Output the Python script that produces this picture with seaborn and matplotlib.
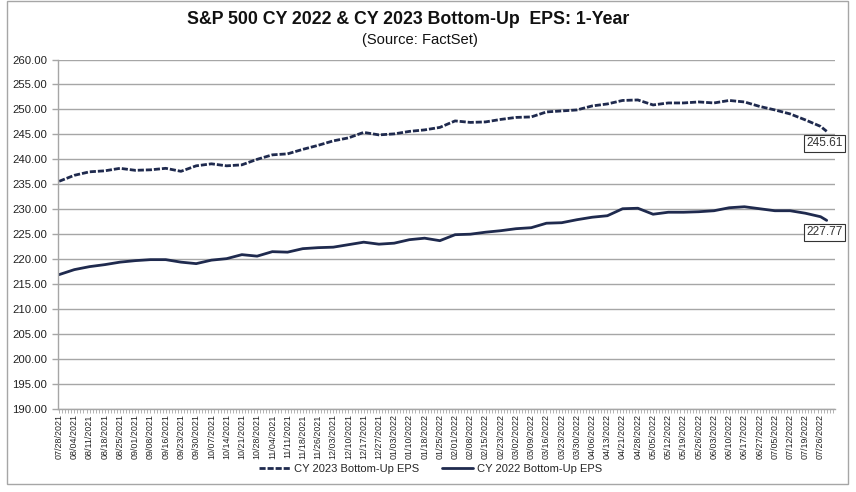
"""
S&P 500 CY 2022 & CY 2023 bottom-up EPS, one year of weekly readings.
"""

import matplotlib

matplotlib.use("Agg")

import matplotlib.pyplot as plt
import pandas as pd
import seaborn as sns
from matplotlib.patches import Rectangle
from matplotlib.ticker import FixedLocator, FormatStrFormatter, MultipleLocator

# ==========================================================
# Data
# ==========================================================

week_labels = [
    "07/28/2021", "08/04/2021", "08/11/2021", "08/18/2021", "08/25/2021",
    "09/01/2021", "09/08/2021", "09/16/2021", "09/23/2021", "09/30/2021",
    "10/07/2021", "10/14/2021", "10/21/2021", "10/28/2021", "11/04/2021",
    "11/11/2021", "11/18/2021", "11/26/2021", "12/03/2021", "12/10/2021",
    "12/17/2021", "12/27/2021", "01/03/2022", "01/10/2022", "01/18/2022",
    "01/25/2022", "02/01/2022", "02/08/2022", "02/15/2022", "02/23/2022",
    "03/02/2022", "03/09/2022", "03/16/2022", "03/23/2022", "03/30/2022",
    "04/06/2022", "04/13/2022", "04/21/2022", "04/28/2022", "05/05/2022",
    "05/12/2022", "05/19/2022", "05/26/2022", "06/03/2022", "06/10/2022",
    "06/17/2022", "06/27/2022", "07/05/2022", "07/12/2022", "07/19/2022",
    "07/26/2022",
]

# trading-day number of each reading (weekly, plus the last day shown)
trade_day = list(range(0, 251, 5)) + [252]

eps_2023 = [
    235.6, 236.8, 237.5, 237.7, 238.2, 237.8, 237.9, 238.2, 237.6, 238.7,
    239.1, 238.7, 238.9, 240.0, 240.9, 241.1, 242.0, 242.8, 243.7, 244.3,
    245.4, 244.9, 245.1, 245.6, 245.9, 246.4, 247.7, 247.4, 247.5, 248.0,
    248.4, 248.5, 249.5, 249.7, 249.9, 250.7, 251.1, 251.8, 251.9, 250.9,
    251.3, 251.3, 251.5, 251.3, 251.8, 251.5, 250.6, 249.9, 249.1, 247.9,
    246.6, 245.61,
]

eps_2022 = [
    216.9, 217.9, 218.5, 218.9, 219.4, 219.7, 219.9, 219.9, 219.4, 219.1,
    219.8, 220.1, 220.9, 220.6, 221.5, 221.4, 222.1, 222.3, 222.4, 222.9,
    223.4, 223.0, 223.2, 223.9, 224.2, 223.7, 224.9, 225.0, 225.4, 225.7,
    226.1, 226.3, 227.2, 227.3, 227.9, 228.4, 228.7, 230.1, 230.2, 229.0,
    229.4, 229.4, 229.5, 229.7, 230.3, 230.5, 230.1, 229.7, 229.7, 229.2,
    228.5, 227.77,
]

NAVY = "#1f2a4e"
GRID = "#a6a6a6"

# ==========================================================
# Plot Style
# ==========================================================

sns.set_theme(style="white")
plt.rcParams["font.family"] = ["Liberation Sans", "DejaVu Sans"]


def main() -> None:
    df = pd.DataFrame(
        {"day": trade_day, "CY 2023 Bottom-Up EPS": eps_2023,
         "CY 2022 Bottom-Up EPS": eps_2022}
    )

    fig = plt.figure(figsize=(8.56, 4.92), dpi=100)
    ax = fig.add_axes([0.068, 0.169, 0.907, 0.710])

    sns.lineplot(
        data=df, x="day", y="CY 2023 Bottom-Up EPS", ax=ax,
        color=NAVY, linewidth=2.0, label="CY 2023 Bottom-Up EPS",
    )
    ax.lines[-1].set_linestyle((0, (2.2, 0.7)))

    sns.lineplot(
        data=df, x="day", y="CY 2022 Bottom-Up EPS", ax=ax,
        color=NAVY, linewidth=2.0, label="CY 2022 Bottom-Up EPS",
    )

    # Axes
    ax.set_xlim(-0.3, 254.6)
    ax.set_ylim(190, 260)
    ax.yaxis.set_major_locator(MultipleLocator(5))
    ax.yaxis.set_major_formatter(FormatStrFormatter("%.2f"))
    ax.grid(axis="y", color=GRID, linewidth=1.0)
    ax.set_axisbelow(True)

    ax.xaxis.set_major_locator(FixedLocator(trade_day[:-1]))
    ax.set_xticklabels(week_labels, rotation=90, fontsize=6.4, color="#222222")
    ax.xaxis.set_minor_locator(MultipleLocator(1))
    ax.tick_params(axis="x", which="both", direction="out", length=3,
                   width=0.6, color=GRID, bottom=True, pad=1)
    ax.tick_params(axis="y", direction="out", length=4, width=1.0,
                   color=GRID, left=True, labelsize=8.2, labelcolor="#222222",
                   pad=4)

    for side in ("top", "right"):
        ax.spines[side].set_visible(False)
    for side in ("left", "bottom"):
        ax.spines[side].set_color(GRID)
        ax.spines[side].set_linewidth(1.0)

    ax.set_xlabel("")
    ax.set_ylabel("")

    # Last-value labels
    for series in (eps_2023, eps_2022):
        ax.annotate(
            f"{series[-1]:.2f}", xy=(trade_day[-1], series[-1]),
            xytext=(-2, -12), textcoords="offset pixels",
            ha="center", va="center", fontsize=8.6, color="#333333",
            bbox=dict(boxstyle="square,pad=0.2", fc="white", ec="#333333",
                      lw=0.8),
        )

    # Legend
    handles, labels = ax.get_legend_handles_labels()
    ax.legend_.remove()
    fig.legend(
        handles, labels, loc="center", bbox_to_anchor=(0.503, 0.046),
        ncol=2, frameon=False, fontsize=8, handlelength=2.8,
        handletextpad=0.4, columnspacing=2.0,
    )

    # Titles
    fig.text(408 / 856, 1 - 19 / 492,
             "S&P 500 CY 2022 & CY 2023 Bottom-Up  EPS: 1-Year",
             ha="center", va="center", fontsize=12.8, fontweight="bold",
             color="#111111")
    fig.text(420 / 856, 1 - 40 / 492, "(Source: FactSet)", ha="center",
             va="center", fontsize=10.6, color="#111111")

    # Outer border
    fig.patches.append(
        Rectangle((7 / 856, 1 - 484 / 492), 841 / 856, 483 / 492,
                  transform=fig.transFigure, fill=False, ec=GRID, lw=1.0)
    )

    fig.savefig("out.png", dpi=100)
    plt.close(fig)


if __name__ == "__main__":
    main()
